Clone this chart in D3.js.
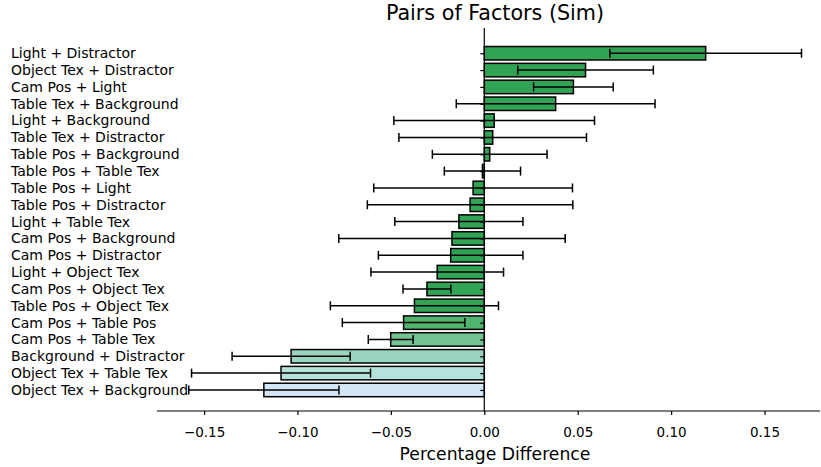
<!DOCTYPE html>
<html>
<head>
<meta charset="utf-8">
<script src="https://cdn.jsdelivr.net/npm/d3@7"></script>
<style>
  body { margin: 0; background: #fff; }
  svg { font-family: "DejaVu Sans", sans-serif; }
</style>
</head>
<body>
<div id="chart"></div>
<script>
// Pairs of factors, top to bottom
const pairs = [
    "Light + Distractor", "Object Tex + Distractor", "Cam Pos + Light",
    "Table Tex + Background", "Light + Background", "Table Tex + Distractor",
    "Table Pos + Background", "Table Pos + Table Tex", "Table Pos + Light",
    "Table Pos + Distractor", "Light + Table Tex", "Cam Pos + Background",
    "Cam Pos + Distractor", "Light + Object Tex", "Cam Pos + Object Tex",
    "Table Pos + Object Tex", "Cam Pos + Table Pos", "Cam Pos + Table Tex",
    "Background + Distractor", "Object Tex + Table Tex", "Object Tex + Background"
];
const diffs = [
    0.1185, 0.0542, 0.0477, 0.0382, 0.0053, 0.0045, 0.0029, -0.001, -0.006,
    -0.0076, -0.0136, -0.0173, -0.0180, -0.0252, -0.0307, -0.0374, -0.0432,
    -0.0501, -0.1034, -0.1088, -0.1180
];
const errs = [
    0.0513, 0.0363, 0.0213, 0.0532, 0.0537, 0.0502, 0.0307, 0.0204, 0.0532,
    0.0550, 0.0343, 0.0606, 0.0387, 0.0355, 0.0128, 0.0450, 0.0328,
    0.0120, 0.0316, 0.0479, 0.0402
];
const fills = [
    "#31a354", "#31a354", "#31a354", "#31a354", "#31a354", "#31a354", "#31a354",
    "#31a354", "#31a354", "#31a354", "#31a354", "#31a354", "#31a354", "#31a354",
    "#31a354", "#33a454", "#50b46e", "#74c493", "#98d4bf", "#b6e2dc", "#d3e6f7"
];
const xTicks = [-0.15, -0.10, -0.05, 0.00, 0.05, 0.10, 0.15];

const width = 821, height = 467;
const svg = d3.select("#chart").append("svg")
    .attr("width", width)
    .attr("height", height);

const x = d3.scaleLinear().domain([-0.1752, 0.1797]).range([157, 820]);
const y = d3.scaleLinear().domain([-1.5, 21.25]).range([28, 411]);
const rowH = y(1) - y(0);
const barH = rowH * 0.8;

const rows = pairs.map((name, i) => ({ name, i, v: diffs[i], e: errs[i], fill: fills[i] }));

// Bars
svg.append("g").selectAll("rect")
    .data(rows)
    .enter().append("rect")
    .attr("x", d => x(Math.min(0, d.v)))
    .attr("y", d => y(d.i) - barH / 2)
    .attr("width", d => Math.abs(x(d.v) - x(0)))
    .attr("height", barH)
    .attr("fill", d => d.fill)
    .attr("stroke", "#000")
    .attr("stroke-width", 1.5);

// Error bars
const eb = svg.append("g").selectAll("g")
    .data(rows)
    .enter().append("g")
    .attr("stroke", "#000")
    .attr("stroke-width", 1.5);
eb.append("line")
    .attr("x1", d => x(d.v - d.e))
    .attr("x2", d => x(d.v + d.e))
    .attr("y1", d => y(d.i))
    .attr("y2", d => y(d.i));
[-1, 1].forEach(s => {
    eb.append("line")
        .attr("x1", d => x(d.v + s * d.e))
        .attr("x2", d => x(d.v + s * d.e))
        .attr("y1", d => y(d.i) - 4.5)
        .attr("y2", d => y(d.i) + 4.5);
});

// Zero line with y ticks
const yAxis = svg.append("g")
    .attr("transform", `translate(${x(0)},0)`)
    .call(d3.axisLeft(y).tickValues(d3.range(pairs.length)).tickSize(4).tickFormat(""));
yAxis.select(".domain").attr("d", `M0,${y(-1.5)}V${y(21.25)}`).attr("stroke-width", 1.2);
yAxis.selectAll(".tick line").attr("stroke-width", 1.2);

// Row labels
svg.append("g").selectAll("text")
    .data(rows)
    .enter().append("text")
    .attr("x", 11)
    .attr("y", d => y(d.i))
    .attr("dy", "0.35em")
    .style("font-size", "14px")
    .style("fill", "#000")
    .text(d => d.name);

// Bottom axis
const xAxis = svg.append("g")
    .attr("transform", `translate(0,${y(21.25)})`)
    .call(d3.axisBottom(x).tickValues(xTicks).tickSize(4).tickPadding(12)
        .tickFormat(d => d3.format(".2f")(d).replace("-", "\u2212")));
xAxis.select(".domain").attr("d", `M157,0H820`).attr("stroke-width", 1.2);
xAxis.selectAll(".tick line").attr("stroke-width", 1.2);
xAxis.selectAll("text").style("font-size", "13.5px").style("font-family", "DejaVu Sans").attr("fill", "#000");

svg.append("text")
    .attr("x", 495)
    .attr("y", 460)
    .attr("text-anchor", "middle")
    .style("font-size", "17.2px")
    .text("Percentage Difference");

svg.append("text")
    .attr("x", 495)
    .attr("y", 20)
    .attr("text-anchor", "middle")
    .style("font-size", "20.7px")
    .text("Pairs of Factors (Sim)");
</script>
</body>
</html>
